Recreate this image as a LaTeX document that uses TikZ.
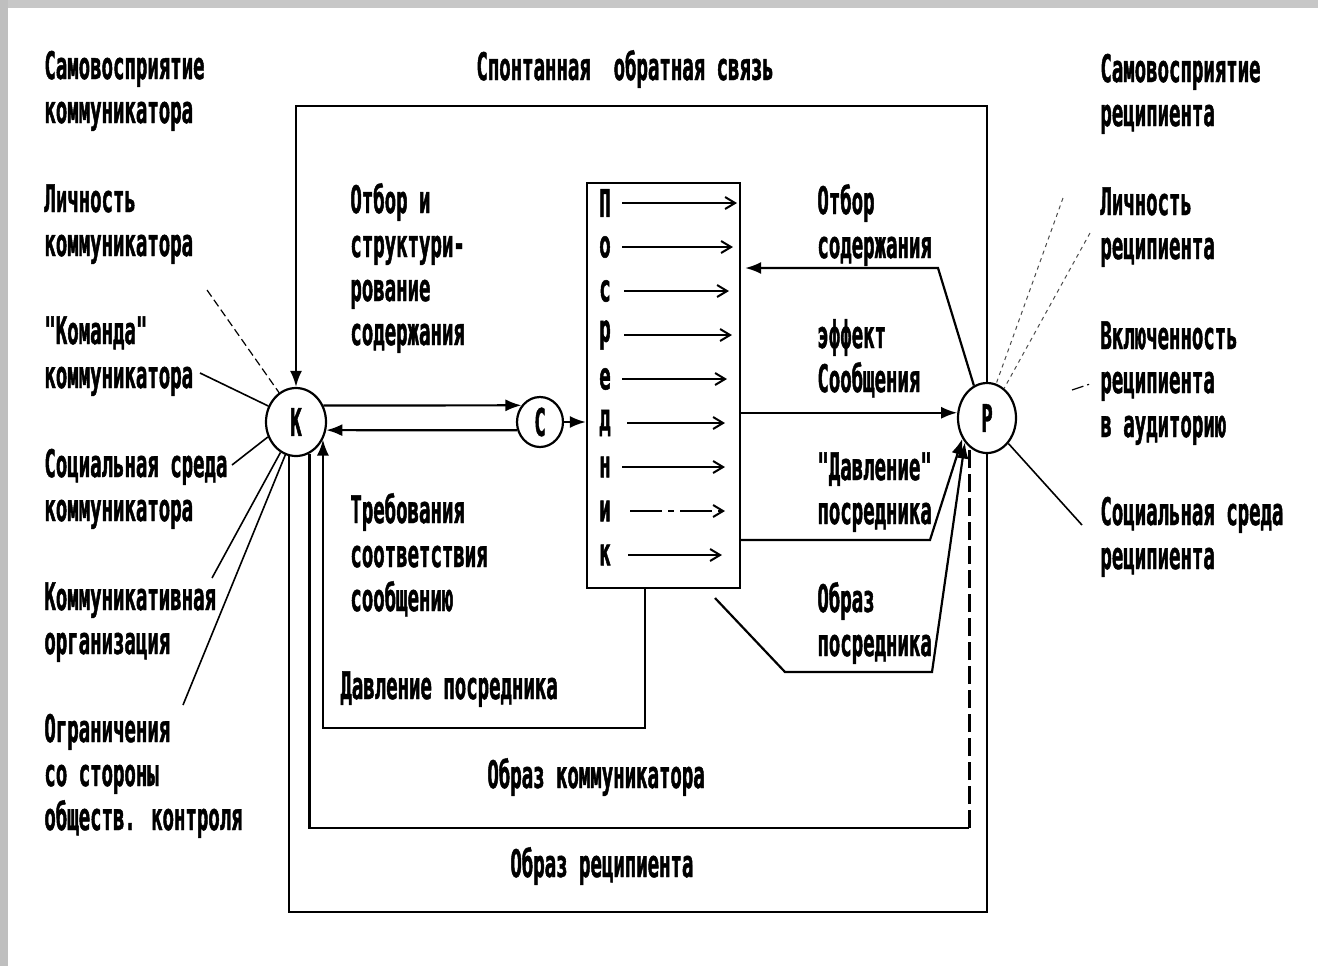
\documentclass[tikz,border=0pt]{standalone}
\usepackage{fontspec}
\newfontfamily\lblfont{DejaVu Sans Mono}[FakeStretch=0.5,FakeBold=1.2]
\usetikzlibrary{arrows.meta,shapes.geometric,calc}
\newcommand{\ml}[1]{\begin{tabular}[t]{@{}l@{}}#1\end{tabular}}
\begin{document}
\begin{tikzpicture}[x=0.5pt,y=-0.5pt,
  lbl/.style={anchor=base west, inner sep=0pt, font=\lblfont\bfseries\fontsize{19}{22}\selectfont},
  letter/.style={inner sep=0pt, font=\lblfont\bfseries\fontsize{19}{22}\selectfont},
  circ/.style={ellipse, draw, line width=1.1pt, inner sep=0pt, fill=white, font=\lblfont\bfseries\fontsize{19}{22}\selectfont},
  boxst/.style={rectangle, draw, line width=1.1pt, inner sep=0pt},
  conn/.style={line width=1.1pt},
  arrow/.style={line width=1.1pt, -{Latex[length=8pt,width=6pt]}},
  inarr/.style={line width=1pt, -{Straight Barb[length=5pt,width=6pt]}},
  ray/.style={line width=0.8pt},
  dray/.style={line width=0.6pt, dash pattern=on 4pt off 2pt},
  pray/.style={line width=0.5pt, dash pattern=on 2pt off 2pt, black!70},
]
\path[use as bounding box] (0,0) rectangle (1318,966);
\fill[black!22] (0,0) rectangle (1318,8);
\fill[black!25] (0,0) rectangle (8,966);

% main nodes
\node[circ, minimum width=30pt, minimum height=34pt] (K) at (296,422) {К};
\node[circ, minimum width=23pt, minimum height=25pt] (C) at (540,422) {С};
\node[circ, minimum width=29pt, minimum height=35pt] (P) at (987,418) {Р};
\node[boxst, minimum width=76.5pt, minimum height=202.5pt] (B) at (663.5,385.5) {};

% letters inside the box
\foreach \ch [count=\i from 0] in {П,о,с,р,е,д,н,и,к}
  \node[letter] (m\i) at (605,203+44*\i) {\ch};
\foreach \i/\s/\e in {0/17/132,1/17/128,2/19/124,3/19/127,4/17/122,5/22/120,6/17/120,8/23/117}
  \draw[inarr] ($(m\i.center)+(\s,0)$) -- ($(m\i.center)+(\e,0)$);
\draw[inarr, dash pattern=on 16pt off 3pt on 3pt off 3pt] ($(m7.center)+(25,0)$) -- ($(m7.center)+(120,0)$);

% named coordinates
\coordinate (fbTop) at (0,106);
\coordinate (obBot) at (0,912);
\coordinate (okBot) at (0,828);
\coordinate (dpBot) at (645,728);
\coordinate (osTurn) at (938,268);
\coordinate (dpTurn) at (930,540);
\coordinate (opStart) at (715,598);
\coordinate (opTurn1) at (785,672);
\coordinate (opTurn2) at (932,672);

% spontaneous feedback
\draw[arrow] (P.north) |- (K.north |- fbTop) -- (K.north);
% image of recipient (outer)
\draw[conn] (K.258) |- (P.south |- obBot) -- (P.south);
% image of communicator (inner)
\draw[conn] (K.293) |- (P.239 |- okBot);
\draw[conn, dash pattern=on 9pt off 3pt] (P.239 |- okBot) -- (P.239);
% pressure of mediator (left)
\draw[arrow] (B.south -| dpBot) -- (dpBot) -| (K.327);
% K <-> C
\draw[arrow] (K.31) -- (C.138);
\draw[arrow] (C.200) -- (K.345);
\draw[arrow] (C.east) -- (C.east -| B.west);
% message to P
\draw[arrow] (B.east |- P.170) -- (P.170);
% selection of content
\draw[arrow] (P.112) -- (osTurn) -- ([xshift=2pt]osTurn -| B.east);
% pressure of mediator (right)
\draw[arrow] (dpTurn -| B.east) -- (dpTurn) -- (P.220);
% image of mediator
\draw[arrow] (opStart) -- (opTurn1) -- (opTurn2) -- (P.228);

% rays around K
\coordinate (rk1) at (207,290);
\coordinate (rk2) at (200,373);
\coordinate (rk3) at (232,465);
\coordinate (rk4) at (212,578);
\coordinate (rk5) at (183,705);
\draw[dray] (rk1) -- (K.120);
\draw[ray] (rk2) -- (K.150);
\draw[ray] (rk3) -- (K.208);
\draw[ray] (rk4) -- (K.243);
\draw[ray] (rk5) -- (K.252);

% rays around P
\coordinate (rp1) at (1063,198);
\coordinate (rp2) at (1090,233);
\coordinate (rp3) at (1082,525);
\coordinate (rp4a) at (1072,390);
\coordinate (rp4b) at (1090,384);
\draw[pray] (rp1) -- (P.75);
\draw[pray] (rp2) -- (P.60);
\draw[ray] (rp3) -- (P.310);
\draw[line width=0.6pt, dash pattern=on 6pt off 2pt on 1pt off 2pt] (rp4a) -- (rp4b);

% texts left column
\node[lbl] (t1) at (44,79) {\ml{Самовосприятие\\коммуникатора}};
\node[lbl] (t2) at (44,212) {\ml{Личность\\коммуникатора}};
\node[lbl] (t3) at (44,344) {\ml{"Команда"\\коммуникатора}};
\node[lbl] (t4) at (44,477) {\ml{Социальная среда\\коммуникатора}};
\node[lbl] (t5) at (44,610) {\ml{Коммуникативная\\организация}};
\node[lbl] (t6) at (44,742) {\ml{Ограничения\\со стороны\\обществ. контроля}};

% top and centre texts
\node[lbl] (t7) at (476,80) {Спонтанная\ \ обратная связь};
\node[lbl] (t8) at (350,213) {\ml{Отбор и\\структури-\\рование\\содержания}};
\node[lbl] (t9) at (350,523) {\ml{Требования\\соответствия\\сообщению}};
\node[lbl] (t10) at (340,699) {Давление посредника};
\node[lbl] (t11) at (487,788) {Образ коммуникатора};
\node[lbl] (t12) at (510,877) {Образ реципиента};

% right-middle texts
\node[lbl] (t13) at (817,214) {\ml{Отбор\\содержания}};
\node[lbl] (t14) at (817,348) {\ml{эффект\\Сообщения}};
\node[lbl] (t15) at (817,480) {\ml{"Давление"\\посредника}};
\node[lbl] (t16) at (817,612) {\ml{Образ\\посредника}};

% right column
\node[lbl] (t17) at (1100,82) {\ml{Самовосприятие\\реципиента}};
\node[lbl] (t18) at (1100,215) {\ml{Личность\\реципиента}};
\node[lbl] (t19) at (1100,349) {\ml{Включенность\\реципиента\\в аудиторию}};
\node[lbl] (t20) at (1100,525) {\ml{Социальная среда\\реципиента}};
\end{tikzpicture}
\end{document}
